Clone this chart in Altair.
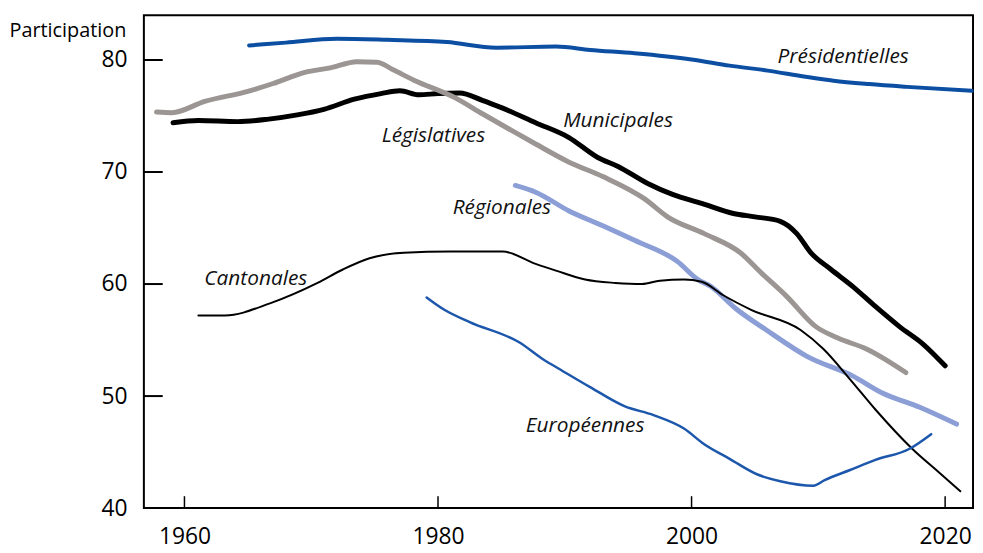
import altair as alt
import pandas as pd

# ---- data ----
pres_year = [1965.1, 1968, 1972, 1976, 1980.7, 1984.6, 1989.3, 1992, 1995.5, 2000, 2003, 2006, 2009, 2011.2, 2014, 2017, 2022.1]
pres_val  = [81.3, 81.55, 81.9, 81.8, 81.6, 81.1, 81.2, 80.9, 80.6, 80.05, 79.5, 79.05, 78.5, 78.15, 77.85, 77.6, 77.25]

muni_year = [1959.1, 1961.1, 1964.2, 1966.5, 1968.9, 1971, 1973.4, 1975.5, 1977, 1978.5, 1980, 1981.7, 1983.5, 1985.1, 1987.7, 1990.3, 1992.6, 1994.2, 1996.5, 1998.5, 2000.8, 2003.3, 2005, 2007, 2008.3, 2009.4, 2011, 2012.7, 2014.5, 2016.4, 2018.3, 2020]
muni_val  = [74.4, 74.6, 74.5, 74.7, 75.1, 75.6, 76.5, 77.0, 77.25, 76.9, 77.0, 77.05, 76.4, 75.7, 74.4, 73.1, 71.3, 70.5, 69.0, 68.0, 67.2, 66.3, 66.0, 65.6, 64.5, 62.8, 61.3, 59.8, 58.0, 56.2, 54.6, 52.7]

legi_year = [1957.8, 1959, 1961.6, 1965, 1967, 1969.5, 1971.5, 1973.6, 1975.2, 1976.5, 1978.1, 1981.4, 1983.5, 1985.9, 1987.7, 1990.3, 1993, 1996.3, 1998.1, 2001, 2003.9, 2005.5, 2007.5, 2009.8, 2011.5, 2013.8, 2016.9]
legi_val  = [75.35, 75.3, 76.3, 77.2, 77.9, 78.9, 79.3, 79.85, 79.8, 79.1, 78.2, 76.6, 75.2, 73.65, 72.5, 70.9, 69.6, 67.6, 66.0, 64.5, 62.75, 61.0, 58.9, 56.2, 55.2, 54.2, 52.1]

regi_year = [1986.1, 1987.7, 1990.3, 1993, 1995.5, 1998.9, 2000.5, 2001.5, 2003.5, 2005.9, 2009.1, 2012.7, 2015, 2018, 2020.9]
regi_val  = [68.8, 68.2, 66.55, 65.2, 63.9, 62.0, 60.4, 59.8, 57.8, 55.9, 53.55, 51.8, 50.3, 49.0, 47.5]

cant_year = [1961.1, 1963.2, 1966.8, 1970.5, 1972.5, 1974.6, 1977.3, 1981, 1985.1, 1987.7, 1989.3, 1991.6, 1994, 1996.1, 1997.5, 1999.4, 2000.8, 2002.5, 2004.7, 2008.6, 2010.4, 2012.5, 2014.5, 2017.4, 2019.5, 2021.2]
cant_val  = [57.2, 57.2, 58.3, 60.1, 61.3, 62.3, 62.8, 62.9, 62.9, 61.8, 61.2, 60.4, 60.1, 60.0, 60.3, 60.4, 60.2, 59.0, 57.7, 55.9, 54.2, 51.5, 48.8, 45.3, 43.2, 41.5]

euro_year = [1979.1, 1980.5, 1982.5, 1986.4, 1988.4, 1989.3, 1992, 1994.7, 1997, 1999.4, 2001, 2003, 2005.2, 2007, 2009.6, 2010.5, 2012.5, 2014.5, 2017.2, 2018.9]
euro_val  = [58.8, 57.7, 56.6, 54.8, 53.2, 52.6, 50.8, 49.1, 48.3, 47.1, 45.7, 44.4, 43.0, 42.4, 42.0, 42.5, 43.4, 44.3, 45.3, 46.6]

series_names  = ["Présidentielles", "Municipales", "Législatives", "Régionales", "Cantonales", "Européennes"]
series_colors = ["#0b4ea2", "#000000", "#9b9594", "#8c9ed6", "#000000", "#1c57ab"]
series_widths = [4, 5, 5, 5, 2, 2.5]

label_x = [2011.96, 1994.2, 1979.64, 1985.04, 1965.63, 1991.6]
label_y = [80.29, 74.53, 73.2, 66.74, 60.45, 47.35]

x_ticks = [1960, 1980, 2000, 2020]
y_ticks = [40, 50, 60, 70, 80]

W, H = 836, 497
X_DOM = [1956.8, 2022.2]
Y_DOM = [40, 84]
FONT = "Open Sans"

series_data = [
    (pres_year, pres_val), (muni_year, muni_val), (legi_year, legi_val),
    (regi_year, regi_val), (cant_year, cant_val), (euro_year, euro_val),
]

xs = alt.Scale(domain=X_DOM, nice=False, zero=False)
ys = alt.Scale(domain=Y_DOM, nice=False, zero=False)

layers = []

# axes (labels only; ticks drawn inward separately)
axis_base = alt.Chart(pd.DataFrame({"x": [X_DOM[0]], "y": [Y_DOM[0]]})).mark_point(opacity=0).encode(
    x=alt.X("x:Q", scale=xs, axis=alt.Axis(values=x_ticks, format="d", title=None, tickSize=0,
                                           labelPadding=18, labelFontSize=23, labelFont=FONT,
                                           labelColor="#000", grid=False, domain=False)),
    y=alt.Y("y:Q", scale=ys, axis=alt.Axis(values=y_ticks, title="Participation", tickSize=0,
                                           labelPadding=17, labelFontSize=23, labelFont=FONT,
                                           labelColor="#000", grid=False, domain=False,
                                           titleAngle=0, titleAlign="left", titleBaseline="middle",
                                           titleX=-136, titleY=16, titleFont=FONT,
                                           titleFontSize=20, titleFontWeight="normal", titleColor="#000")),
)
layers.append(axis_base)

# inward ticks
ytick_df = pd.DataFrame({"v": [v for v in y_ticks if v > Y_DOM[0]]})
layers.append(alt.Chart(ytick_df).mark_rule(color="black", strokeWidth=2).encode(
    y=alt.Y("v:Q", scale=ys), x=alt.value(0), x2=alt.value(19)))
xtick_df = pd.DataFrame({"v": x_ticks})
layers.append(alt.Chart(xtick_df).mark_rule(color="black", strokeWidth=1.5).encode(
    x=alt.X("v:Q", scale=xs), y=alt.value(H), y2=alt.value(H - 12)))

# series lines
for name, color, w, (yr, val) in zip(series_names, series_colors, series_widths, series_data):
    df = pd.DataFrame({"year": yr, "value": val})
    layers.append(alt.Chart(df).mark_line(color=color, strokeWidth=w, interpolate="monotone",
                                          strokeCap="round", strokeJoin="round").encode(
        x=alt.X("year:Q", scale=xs), y=alt.Y("value:Q", scale=ys)))

# labels
lab_df = pd.DataFrame({"label": series_names, "x": label_x, "y": label_y})
layers.append(alt.Chart(lab_df).mark_text(font=FONT, fontSize=21, fontStyle="italic",
                                          color="#111", align="center", baseline="middle").encode(
    x=alt.X("x:Q", scale=xs), y=alt.Y("y:Q", scale=ys), text="label:N"))

chart = alt.layer(*layers).properties(
    width=W, height=H,
    padding={"left": 137, "top": 5, "right": 2, "bottom": 40},
    autosize=alt.AutoSizeParams(type="none"),
    background="white",
).configure_view(stroke="#000000", strokeWidth=2)

chart.save("out.html", embed_options={"renderer": "svg", "actions": False})
